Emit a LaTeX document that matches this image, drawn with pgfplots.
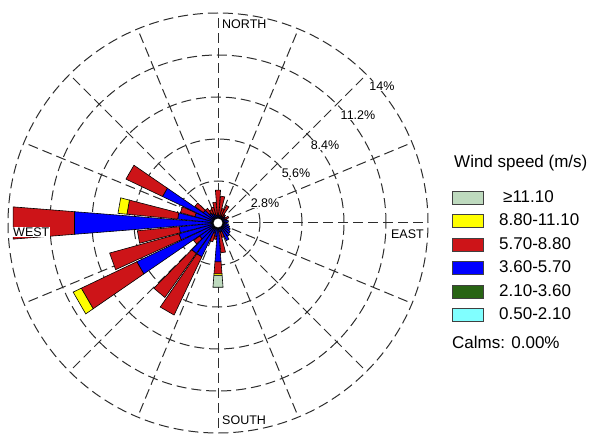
\documentclass[border=0pt]{standalone}
\usepackage{pgfplots}
\pgfplotsset{compat=1.18}
\usepackage{fontspec}
\setmainfont{Liberation Sans}
\definecolor{wlg}{RGB}{190,218,190}
\definecolor{wyel}{RGB}{255,255,0}
\definecolor{wred}{RGB}{205,20,24}
\definecolor{wblue}{RGB}{0,0,255}
\definecolor{wgreen}{RGB}{40,100,20}
\definecolor{wcyan}{RGB}{128,255,255}
\definecolor{gridc}{RGB}{45,45,45}

% one stacked segment of a wind-rose bar: direction (deg, clockwise from north), inner %, outer %, colour
\newcommand{\seg}[4]{%
  \pgfmathsetmacro{\wa}{90-#1-4.5}%
  \pgfmathsetmacro{\wb}{90-#1+4.5}%
  \addplot[forget plot, draw=black, line width=0.6pt, fill=#4, data cs=polar]
    coordinates {(\wa,#2) (\wb,#2) (\wb,#3) (\wa,#3)} -- cycle;%
}
% cumulative ends: direction, blue end, red end, yellow end, >=11.10 end
\newcommand{\wbar}[5]{%
  \seg{#1}{0}{#2}{wblue}%
  \ifdim#3pt>#2pt\relax\seg{#1}{#2}{#3}{wred}\fi
  \ifdim#4pt>#3pt\relax\seg{#1}{#3}{#4}{wyel}\fi
  \ifdim#5pt>#4pt\relax\seg{#1}{#4}{#5}{wlg}\fi
}

\begin{document}
\begin{tikzpicture}[x=1pt,y=1pt]
\useasboundingbox (0,0) rectangle (598,434);
\begin{scope}[gridc, line width=1pt, dash pattern=on 10pt off 5pt]
\foreach \r in {42,84,126,168,210} \draw (218,211) circle[radius=\r];
\foreach \a in {0,22.5,...,337.5} \draw (218,211) -- ++(\a:210);
\end{scope}
\begin{axis}[at={(218pt,211pt)}, anchor=center, scale only axis,
  width=420pt, height=420pt, xmin=-14, xmax=14, ymin=-14, ymax=14,
  hide axis, clip=false,
  legend style={at={(axis cs:15.6,2.2)}, anchor=north west, draw=none, fill=none,
    inner sep=0pt, font=\fontsize{17}{20}\selectfont, row sep=8.5pt,
    nodes={inner sep=0pt, text height=12pt, text depth=3pt}},
  legend cell align=left,
  legend image code/.code={\draw[#1, draw=black!75, line width=1pt] (0pt,-6.5pt) rectangle (31pt,6.5pt);},
  /tikz/every odd column/.append style={column sep=15pt}]
\addlegendimage{fill=wlg}\addlegendentry{\hspace{4pt}≥11.10}
\addlegendimage{fill=wyel}\addlegendentry{8.80-11.10}
\addlegendimage{fill=wred}\addlegendentry{5.70-8.80}
\addlegendimage{fill=wblue}\addlegendentry{3.60-5.70}
\addlegendimage{fill=wgreen}\addlegendentry{2.10-3.60}
\addlegendimage{fill=wcyan}\addlegendentry{0.50-2.10}
\wbar{0}{0.6}{2.2}{2.2}{2.2}
\wbar{10}{0.5}{1.8}{1.8}{1.8}
\wbar{20}{0.5}{1.0}{1.0}{1.0}
\wbar{30}{0.5}{1.3}{1.3}{1.3}
\wbar{40}{0.5}{0.7}{0.7}{0.7}
\wbar{50}{0.6}{0.6}{0.6}{0.6}
\wbar{60}{0.5}{0.8}{0.8}{0.8}
\wbar{70}{0.6}{0.6}{0.6}{0.6}
\wbar{80}{0.7}{0.7}{0.7}{0.7}
\wbar{90}{0.6}{0.6}{0.6}{0.6}
\wbar{100}{0.7}{0.7}{0.7}{0.7}
\wbar{110}{0.8}{0.8}{0.8}{0.8}
\wbar{120}{0.9}{0.9}{0.9}{0.9}
\wbar{130}{1.0}{1.0}{1.0}{1.0}
\wbar{140}{1.1}{1.1}{1.1}{1.1}
\wbar{150}{1.3}{1.3}{1.3}{1.3}
\wbar{160}{0.6}{1.0}{1.0}{1.0}
\wbar{170}{0.6}{2.0}{2.0}{2.0}
\wbar{180}{2.6}{3.4}{3.5}{4.3}
\wbar{190}{0.9}{1.1}{1.1}{1.1}
\wbar{200}{0.7}{1.3}{1.3}{1.3}
\wbar{210}{2.5}{6.8}{6.8}{6.8}
\wbar{220}{2.5}{6.1}{6.1}{6.1}
\wbar{230}{1.5}{2.0}{2.0}{2.0}
\wbar{240}{6.0}{10.1}{10.7}{10.7}
\wbar{250}{2.7}{7.5}{7.5}{7.5}
\wbar{260}{2.6}{5.4}{5.4}{5.4}
\wbar{270}{9.6}{13.7}{13.7}{13.7}
\wbar{280}{2.7}{6.1}{6.7}{6.7}
\wbar{290}{1.6}{2.6}{2.6}{2.6}
\wbar{300}{4.1}{6.8}{6.8}{6.8}
\wbar{310}{1.2}{1.9}{1.9}{1.9}
\wbar{320}{0.8}{1.2}{1.2}{1.2}
\wbar{330}{0.7}{1.0}{1.0}{1.0}
\wbar{340}{0.6}{1.1}{1.1}{1.1}
\wbar{350}{0.5}{1.4}{1.4}{1.4}
\end{axis}
\draw[black, fill=white, line width=0.8pt] (218,211) circle[radius=5];
\begin{scope}[every node/.style={fill=white, inner sep=1pt, font=\fontsize{12.5}{14}\selectfont, text=black}]
\node at (265,231) {2.8\%};
\node at (296,261) {5.6\%};
\node at (325,289) {8.4\%};
\node at (358,319) {11.2\%};
\node at (382,348) {14\%};
\node[anchor=west] at (221,410) {NORTH};
\node[anchor=east] at (425,200) {EAST};
\node[anchor=west] at (221,14) {SOUTH};
\node[anchor=west] at (12,202) {WEST};
\end{scope}
\node[anchor=west, inner sep=0pt, font=\fontsize{17}{20}\selectfont] at (454,271) {Wind speed (m/s)};
\node[anchor=west, inner sep=0pt, font=\fontsize{17}{20}\selectfont] at (452,92) {Calms: 0.00\%};
\end{tikzpicture}
\end{document}
